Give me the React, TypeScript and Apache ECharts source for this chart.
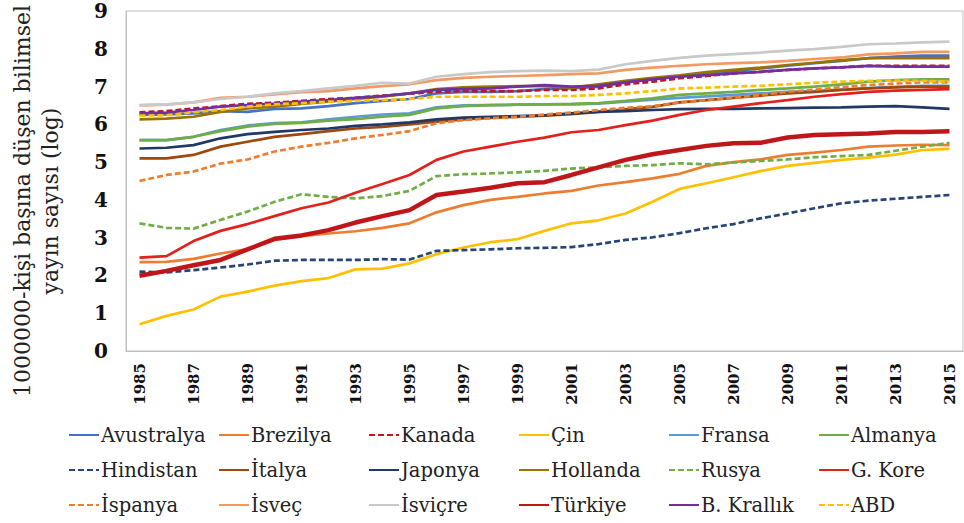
import React, { useEffect, useRef } from "react";
import * as echarts from "echarts";

const years = ["1985","1986","1987","1988","1989","1990","1991","1992","1993","1994","1995","1996","1997","1998","1999","2000","2001","2002","2003","2004","2005","2006","2007","2008","2009","2010","2011","2012","2013","2014","2015"];

const avustralya = [6.25,6.26,6.29,6.35,6.33,6.41,6.42,6.48,6.56,6.62,6.67,6.82,6.86,6.86,6.88,6.93,6.95,7.00,7.11,7.19,7.28,7.35,7.41,7.48,7.55,7.62,7.68,7.75,7.79,7.82,7.82];
const brezilya = [2.35,2.36,2.44,2.58,2.70,2.94,3.04,3.11,3.17,3.26,3.38,3.67,3.86,4.00,4.08,4.17,4.24,4.38,4.47,4.57,4.69,4.90,5.00,5.07,5.19,5.25,5.32,5.41,5.44,5.46,5.45];
const kanada = [6.32,6.35,6.42,6.48,6.54,6.57,6.62,6.67,6.70,6.76,6.81,6.86,6.88,6.88,6.88,6.91,6.91,6.95,7.06,7.13,7.22,7.28,7.35,7.39,7.44,7.48,7.51,7.55,7.55,7.55,7.55];
const cin = [0.71,0.93,1.10,1.44,1.57,1.73,1.85,1.93,2.16,2.18,2.32,2.56,2.74,2.88,2.96,3.18,3.38,3.46,3.64,3.95,4.29,4.44,4.60,4.76,4.90,4.98,5.06,5.12,5.20,5.32,5.35];
const fransa = [5.58,5.58,5.67,5.85,5.97,6.03,6.05,6.13,6.20,6.26,6.29,6.45,6.50,6.51,6.52,6.53,6.53,6.55,6.60,6.65,6.70,6.74,6.78,6.82,6.86,6.88,6.92,6.96,6.99,7.02,7.02];
const almanya = [5.58,5.58,5.67,5.82,5.94,6.01,6.04,6.10,6.14,6.20,6.25,6.42,6.48,6.51,6.52,6.53,6.54,6.56,6.62,6.69,6.78,6.82,6.86,6.91,6.95,7.00,7.06,7.13,7.17,7.19,7.19];
const hindistan = [2.10,2.08,2.14,2.21,2.29,2.39,2.41,2.41,2.41,2.43,2.42,2.65,2.67,2.69,2.72,2.73,2.75,2.83,2.94,3.01,3.12,3.25,3.36,3.51,3.64,3.78,3.91,3.98,4.03,4.08,4.13];
const italya = [5.10,5.10,5.19,5.41,5.54,5.67,5.74,5.82,5.89,5.93,6.00,6.07,6.13,6.17,6.20,6.23,6.27,6.33,6.40,6.46,6.58,6.64,6.70,6.76,6.82,6.86,6.91,6.95,6.98,7.00,7.00];
const japonya = [5.36,5.38,5.45,5.63,5.74,5.80,5.85,5.89,5.96,6.00,6.05,6.13,6.18,6.20,6.22,6.24,6.29,6.33,6.35,6.38,6.40,6.41,6.41,6.42,6.43,6.44,6.45,6.47,6.48,6.45,6.41];
const hollanda = [6.13,6.15,6.20,6.33,6.42,6.47,6.54,6.60,6.67,6.73,6.82,6.93,6.98,7.00,7.01,7.01,6.97,7.06,7.15,7.23,7.30,7.38,7.44,7.50,7.57,7.63,7.70,7.75,7.75,7.75,7.75];
const rusya = [3.38,3.26,3.24,3.47,3.69,3.95,4.15,4.08,4.04,4.10,4.24,4.63,4.68,4.70,4.73,4.77,4.83,4.86,4.90,4.92,4.97,4.94,4.99,5.03,5.07,5.13,5.16,5.19,5.30,5.41,5.51];
const gKore = [2.47,2.51,2.91,3.18,3.36,3.57,3.78,3.93,4.19,4.42,4.66,5.06,5.28,5.41,5.54,5.65,5.79,5.85,5.98,6.10,6.25,6.38,6.47,6.56,6.64,6.73,6.80,6.86,6.89,6.91,6.93];
const ispanya = [4.50,4.66,4.75,4.96,5.07,5.28,5.41,5.51,5.63,5.72,5.82,6.03,6.11,6.16,6.20,6.26,6.31,6.38,6.44,6.48,6.58,6.64,6.70,6.78,6.86,6.92,6.98,7.04,7.08,7.11,7.11];
const isvec = [6.50,6.52,6.58,6.70,6.73,6.79,6.85,6.88,6.95,7.01,7.06,7.17,7.23,7.26,7.28,7.30,7.33,7.35,7.44,7.50,7.55,7.59,7.62,7.64,7.68,7.73,7.77,7.85,7.88,7.92,7.92];
const isvicre = [6.51,6.53,6.58,6.67,6.73,6.82,6.88,6.95,7.02,7.10,7.08,7.26,7.33,7.38,7.41,7.42,7.41,7.45,7.59,7.68,7.76,7.82,7.86,7.90,7.95,7.99,8.05,8.12,8.14,8.17,8.19];
const turkiye = [1.99,2.12,2.27,2.41,2.69,2.97,3.06,3.20,3.40,3.57,3.73,4.13,4.22,4.32,4.44,4.47,4.66,4.86,5.06,5.21,5.32,5.43,5.50,5.51,5.65,5.72,5.74,5.76,5.80,5.80,5.82];
const bKrallik = [6.29,6.31,6.38,6.47,6.51,6.55,6.60,6.64,6.70,6.75,6.82,6.91,6.93,6.95,7.00,7.04,7.00,7.02,7.11,7.19,7.26,7.30,7.35,7.39,7.44,7.48,7.51,7.55,7.53,7.53,7.53];
const abd = [6.23,6.24,6.32,6.38,6.47,6.53,6.56,6.60,6.62,6.64,6.67,6.73,6.73,6.73,6.73,6.75,6.75,6.78,6.82,6.88,6.95,6.97,7.00,7.02,7.06,7.10,7.13,7.15,7.16,7.15,7.13];

const yTicks = ["0","1","2","3","4","5","6","7","8","9"];
const yTitle = "1000000-kişi başına düşen bilimsel\nyayın sayısı (log)";

type S = { name: string; data: number[]; color: string; dashed?: boolean; width?: number };
const seriesDefs: S[] = [
  { name: "Avustralya", data: avustralya, color: "#4472C4" },
  { name: "Brezilya", data: brezilya, color: "#ED7D31" },
  { name: "Kanada", data: kanada, color: "#C5121C", dashed: true },
  { name: "Çin", data: cin, color: "#FFC000" },
  { name: "Fransa", data: fransa, color: "#5B9BD5" },
  { name: "Almanya", data: almanya, color: "#70AD47" },
  { name: "Hindistan", data: hindistan, color: "#264478", dashed: true },
  { name: "İtalya", data: italya, color: "#9E480E" },
  { name: "Japonya", data: japonya, color: "#203864" },
  { name: "Hollanda", data: hollanda, color: "#997300" },
  { name: "Rusya", data: rusya, color: "#70AD47", dashed: true },
  { name: "G. Kore", data: gKore, color: "#E3211C" },
  { name: "İspanya", data: ispanya, color: "#ED7D31", dashed: true },
  { name: "İsveç", data: isvec, color: "#F39A62" },
  { name: "İsviçre", data: isvicre, color: "#C9C9C9" },
  { name: "Türkiye", data: turkiye, color: "#C0161A", width: 4.5 },
  { name: "B. Krallık", data: bKrallik, color: "#7030A0" },
  { name: "ABD", data: abd, color: "#FFC000", dashed: true },
];

const FONT = "DejaVu Serif";

export default function App() {
  const ref = useRef<HTMLDivElement>(null);
  useEffect(() => {
    if (!ref.current) return;
    const chart = echarts.init(ref.current, undefined, { renderer: "svg" });
    const legends = [0, 1, 2, 3, 4, 5].map((c) => ({
      orient: "vertical" as const,
      left: 68 + 150 * c,
      top: 424,
      itemWidth: 30,
      itemHeight: 14,
      itemGap: 13,
      padding: 0,
      itemStyle: { opacity: 0 },
      data: [seriesDefs[c].name, seriesDefs[c + 6].name, seriesDefs[c + 12].name],
      textStyle: { fontFamily: FONT, fontSize: 19.5, color: "#222", lineHeight: 22, padding: [0, 0, 0, -3] },
    }));
    chart.setOption({
      animation: false,
      backgroundColor: "#fff",
      grid: { left: 126, right: 1, top: 11, bottom: 172, show: true, borderColor: "#BFBFBF", borderWidth: 1 },
      legend: legends,
      xAxis: {
        type: "category",
        data: years,
        boundaryGap: true,
        axisLine: { show: true, lineStyle: { color: "#BFBFBF" } },
        axisTick: { show: false },
        axisLabel: { interval: 1, rotate: 90, fontFamily: FONT, fontWeight: "bold", fontSize: 15, color: "#111", margin: 12 },
      },
      yAxis: {
        type: "value",
        min: 0,
        max: 9,
        interval: 1,
        splitLine: { show: false },
        axisLine: { show: true, lineStyle: { color: "#BFBFBF" } },
        axisTick: { show: false },
        axisLabel: { fontFamily: FONT, fontWeight: "bold", fontSize: 20, color: "#111", margin: 18, formatter: (v: number) => yTicks[Math.round(v)] },
      },
      graphic: [
        {
          type: "text",
          x: 36,
          y: 201,
          rotation: Math.PI / 2,
          style: { text: yTitle, fontFamily: FONT, fontSize: 22, lineHeight: 28, fill: "#222", textAlign: "center", textVerticalAlign: "middle" },
        },
      ],
      series: seriesDefs.map((s) => ({
        name: s.name,
        type: "line",
        data: s.data,
        symbol: "none",
        showSymbol: false,
        smooth: false,
        itemStyle: { color: s.color },
        lineStyle: { color: s.color, width: s.width ?? 2.7, type: s.dashed ? [6, 3] : "solid" },
      })),
    });
    return () => chart.dispose();
  }, []);
  return <div ref={ref} style={{ width: 964, height: 523, position: "absolute", left: 0, top: 0 }} />;
}
